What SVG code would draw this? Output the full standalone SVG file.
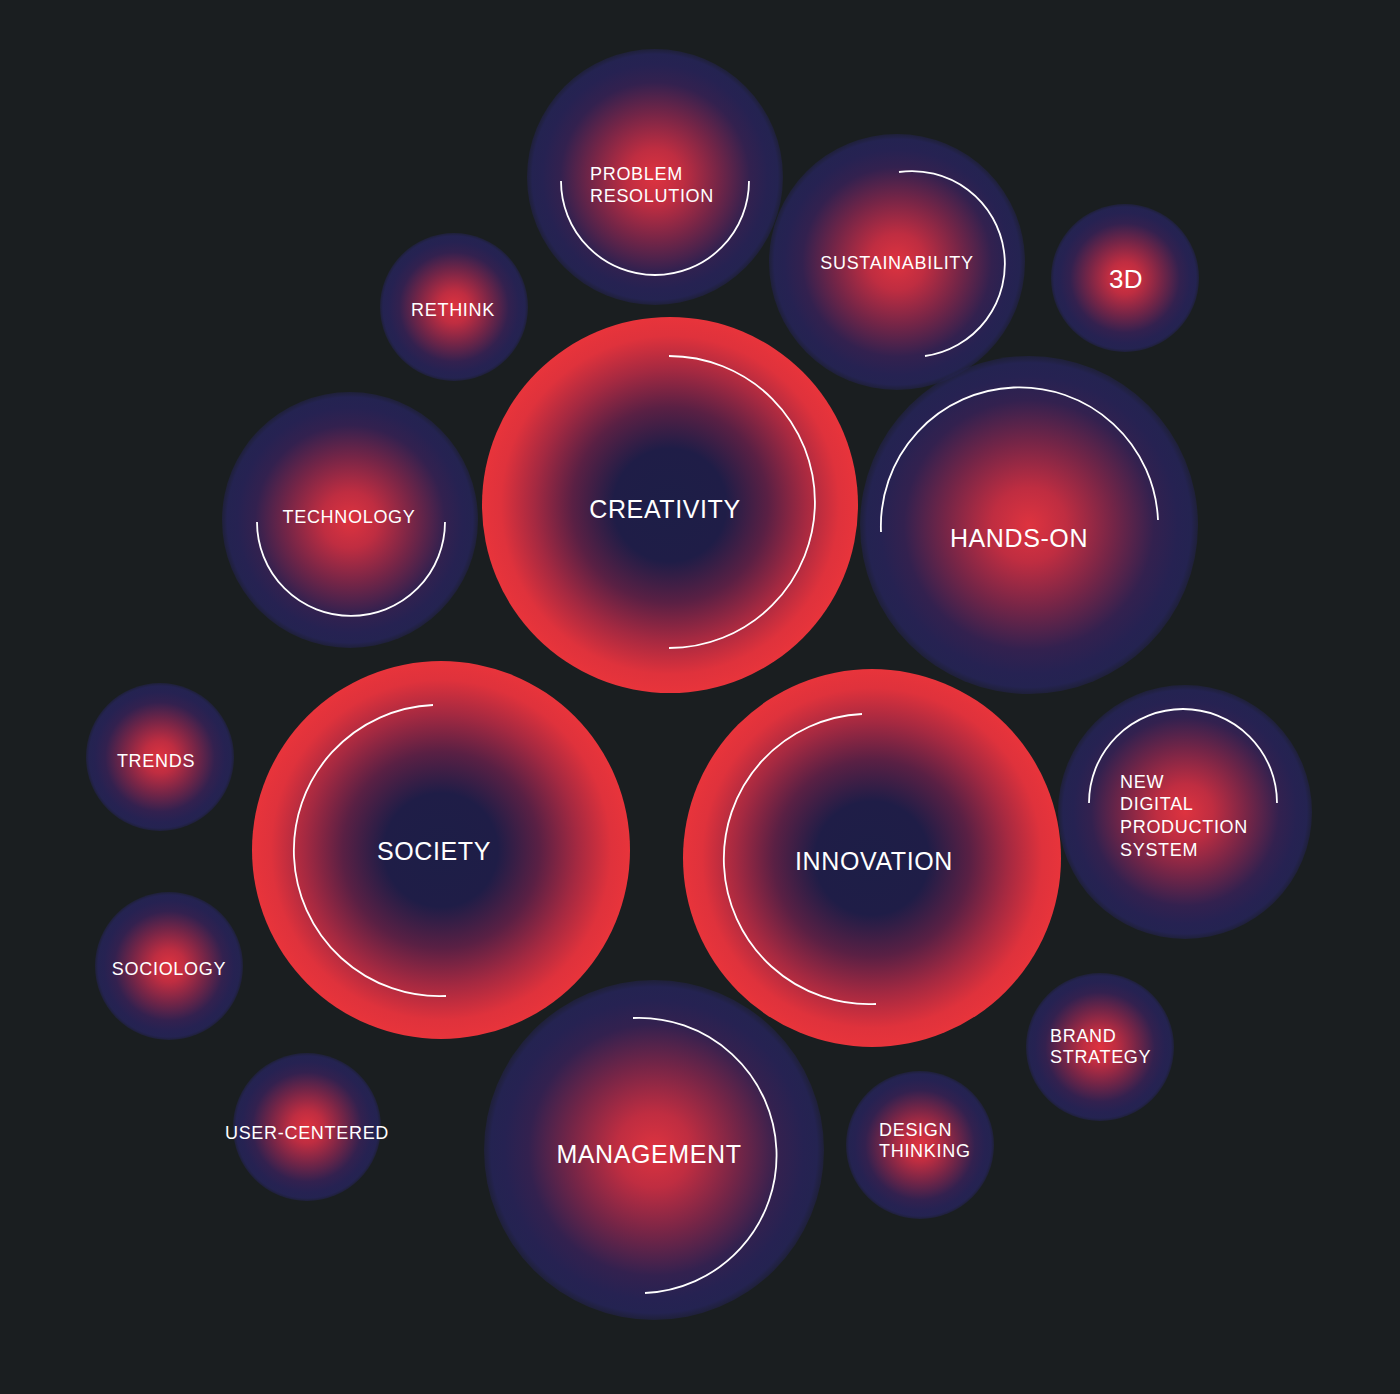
<svg xmlns="http://www.w3.org/2000/svg" width="1400" height="1394" viewBox="0 0 1400 1394">
<defs>
<radialGradient id="gBlue" cx="0.5" cy="0.5" r="0.5">
<stop offset="0" stop-color="#de333f"/>
<stop offset="0.22" stop-color="#bf2d41"/>
<stop offset="0.5" stop-color="#742547"/>
<stop offset="0.74" stop-color="#33214f"/>
<stop offset="0.88" stop-color="#262252"/>
<stop offset="0.96" stop-color="#242351"/>
<stop offset="1" stop-color="#23224e" stop-opacity="0.55"/>
</radialGradient>
<radialGradient id="gRed" cx="0.5" cy="0.5" r="0.5">
<stop offset="0" stop-color="#1d1e47"/>
<stop offset="0.3" stop-color="#1f1d47"/>
<stop offset="0.52" stop-color="#5a2044"/>
<stop offset="0.72" stop-color="#a42941"/>
<stop offset="0.9" stop-color="#df323c"/>
<stop offset="1" stop-color="#e8343b"/>
</radialGradient>
</defs>
<style>
.blue{fill:url(#gBlue)}
.red{fill:url(#gRed)}
.arc{fill:none;stroke:#ffffff;stroke-width:1.8;stroke-linecap:butt}
text{font-family:"Liberation Sans",Arial,sans-serif;fill:#ffffff}
.s{font-size:18px;letter-spacing:0.7px}
.b{font-size:25px;letter-spacing:0.6px}
.c{text-anchor:middle}
</style>
<rect width="1400" height="1394" fill="#1a1e20"/>

<g id="problem-resolution"><circle class="blue" cx="655" cy="177" r="128"/><text class="s" x="590" y="180">PROBLEM</text><text class="s" x="590" y="202">RESOLUTION</text></g>
<g id="sustainability"><circle class="blue" cx="897" cy="262" r="128"/><text class="s c" x="897" y="269">SUSTAINABILITY</text></g>
<g id="n3d"><circle class="blue" cx="1125" cy="278" r="74"/><text class="c" x="1126" y="288" font-size="26" letter-spacing="0.5">3D</text></g>
<g id="rethink"><circle class="blue" cx="454" cy="307" r="74"/><text class="s c" x="453" y="316">RETHINK</text></g>
<g id="technology"><circle class="blue" cx="350" cy="520" r="128"/><text class="s c" x="349" y="523">TECHNOLOGY</text></g>
<g id="hands-on"><circle class="blue" cx="1029" cy="525" r="169"/><text class="b c" x="1019" y="547">HANDS-ON</text></g>
<g id="trends"><circle class="blue" cx="160" cy="757" r="74"/><text class="s c" x="156" y="767">TRENDS</text></g>
<g id="sociology"><circle class="blue" cx="169" cy="966" r="74"/><text class="s c" x="169" y="975">SOCIOLOGY</text></g>
<g id="user-centered"><circle class="blue" cx="307" cy="1127" r="74"/><text class="s c" x="307" y="1139">USER-CENTERED</text></g>
<g id="new-digital-production-system"><circle class="blue" cx="1185" cy="812" r="127"/><text class="s" x="1120" y="788">NEW</text><text class="s" x="1120" y="810">DIGITAL</text><text class="s" x="1120" y="833">PRODUCTION</text><text class="s" x="1120" y="856">SYSTEM</text></g>
<g id="brand-strategy"><circle class="blue" cx="1100" cy="1047" r="74"/><text class="s" x="1050" y="1042">BRAND</text><text class="s" x="1050" y="1063">STRATEGY</text></g>
<g id="design-thinking"><circle class="blue" cx="920" cy="1145" r="74"/><text class="s" x="879" y="1136">DESIGN</text><text class="s" x="879" y="1157">THINKING</text></g>
<g id="management"><circle class="blue" cx="654" cy="1150" r="170"/></g>

<g id="creativity"><circle class="red" cx="670" cy="505" r="188"/><text class="b c" x="665" y="518">CREATIVITY</text></g>
<g id="society"><circle class="red" cx="441" cy="850" r="189"/><text class="b c" x="434" y="860">SOCIETY</text></g>
<g id="innovation"><circle class="red" cx="872" cy="858" r="189"/><text class="b c" x="874" y="870">INNOVATION</text></g>
<g id="management-label"><text class="b c" x="649" y="1163">MANAGEMENT</text></g>

<g id="connectors">
<path class="arc" d="M561,181 A94,94 0 0 0 749,181"/>
<path class="arc" d="M899,172 A92,92 0 0 1 925,356"/>
<path class="arc" d="M257,522 A94,94 0 0 0 445,522"/>
<path class="arc" d="M881,532 A138,138 0 0 1 1158,520"/>
<path class="arc" d="M1089,803 A94,94 0 0 1 1277,803"/>
<path class="arc" d="M669,356 A146,146 0 0 1 669,648"/>
<path class="arc" d="M433,705 A145,145 0 0 0 446,996"/>
<path class="arc" d="M862,714 A145,145 0 0 0 876,1004"/>
<path class="arc" d="M633,1018 A137,137 0 0 1 645,1293"/>
</g>
</svg>
